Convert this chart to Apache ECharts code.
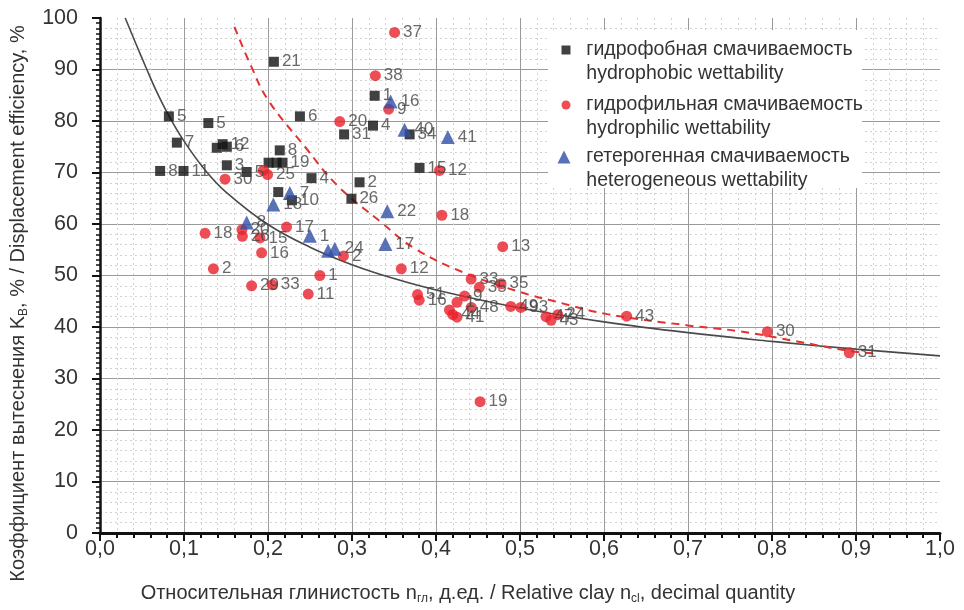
<!DOCTYPE html>
<html>
<head>
<meta charset="utf-8">
<script src="https://cdn.jsdelivr.net/npm/echarts@6/dist/echarts.min.js"></script>
<style>
  html, body { margin: 0; padding: 0; background: #fff; }
  #chart { width: 964px; height: 610px; }
</style>
</head>
<body>
<div id="chart"></div>
<script>
// Displacement efficiency vs. relative clay content, by wettability type.
// Each point: [relative clay, displacement efficiency %, sample no.]
const hydrophobic = [
  [0.207, 91.5, '21'], [0.082, 80.9, '5'], [0.129, 79.6, '5'], [0.238, 80.9, '6'],
  [0.0915, 75.8, '7'], [0.139, 74.8, ''], [0.146, 75.5, '12'], [0.151, 75.0, '6'],
  [0.214, 74.3, '8'], [0.151, 71.4, '3'], [0.2007, 71.9, ''], [0.2102, 71.9, ''],
  [0.2173, 71.9, '19'], [0.1746, 70.1, '5'], [0.0716, 70.3, '8'], [0.0994, 70.3, '11'],
  [0.2518, 68.9, '4'], [0.309, 68.1, '2'], [0.2993, 64.9, '26'], [0.327, 84.9, '1'],
  [0.325, 79.1, '4'], [0.2906, 77.4, '31'], [0.3686, 77.4, '34'], [0.3804, 70.9, '15'],
  [0.2122, 66.2, ''], [0.2285, 64.6, '10']
];
const hydrophilic = [
  [0.3507, 97.2, '37'], [0.3278, 88.8, '38'], [0.3436, 82.3, '9'], [0.2854, 79.9, '20'],
  [0.4042, 70.4, '12'], [0.407, 61.7, '18'], [0.1489, 68.7, '30'], [0.1944, 70.4, ''],
  [0.1995, 69.6, '25'], [0.2221, 59.4, '17'], [0.1251, 58.2, '18'], [0.169, 58.9, '20'],
  [0.1695, 57.6, '26'], [0.1904, 57.3, '15'], [0.1924, 54.4, '16'], [0.135, 51.3, '2'],
  [0.1805, 48.0, '29'], [0.2051, 48.2, '33'], [0.2617, 50.0, '1'], [0.2479, 46.4, '11'],
  [0.2898, 53.8, '2'], [0.3587, 51.3, '12'], [0.4794, 55.6, '13'], [0.4418, 49.3, '33'],
  [0.4516, 47.7, '35'], [0.4774, 48.4, '35'], [0.434, 46.0, '9'], [0.378, 46.3, '51'],
  [0.380, 45.2, '16'], [0.425, 44.8, '1'], [0.416, 43.3, ''], [0.420, 42.4, '44'],
  [0.425, 41.9, '41'], [0.442, 43.8, '48'], [0.489, 44.0, '49'], [0.501, 43.8, '93'],
  [0.531, 42.0, '47'], [0.537, 41.3, '43'], [0.545, 42.4, '24'], [0.627, 42.1, '43'],
  [0.7945, 39.1, '30'], [0.892, 35.0, '31'], [0.4525, 25.5, '19']
];
const heterogeneous = [
  [0.346, 83.8, '16'], [0.3626, 78.3, '40'], [0.4141, 76.9, '41'], [0.342, 62.5, '22'],
  [0.3397, 56.1, '17'], [0.2498, 57.7, '1'], [0.2716, 54.8, ''], [0.2795, 55.2, '24'],
  [0.1746, 60.3, '8'], [0.2063, 63.8, '18'], [0.226, 66.0, '7']
];
// Trend for all samples (solid) and for hydrophilic samples (dashed)
const trendAll = [
  [0.030, 100], [0.0425, 95.1], [0.055, 90.3], [0.068, 85.5], [0.082, 81.0],
  [0.1, 76.1], [0.125, 70.5], [0.15, 66.2], [0.2, 59.9], [0.25, 55.5], [0.3, 52.1],
  [0.35, 49.4], [0.4, 47.2], [0.5, 43.7], [0.6, 41.0], [0.7, 38.9], [0.8, 37.2],
  [0.9, 35.7], [1.0, 34.4]
];
const trendHydrophilic = [
  [0.160, 98.3], [0.18, 90.6], [0.2, 84.1], [0.244, 75.0], [0.283, 67.4], [0.335, 60.3],
  [0.375, 55.2], [0.434, 50.5], [0.5, 46.8], [0.541, 45.0], [0.604, 42.5], [0.7, 40.3],
  [0.76, 39.2], [0.83, 37.2], [0.89, 35.4], [0.92, 34.9]
];
const seriesNames = [
  'гидрофобная смачиваемость\nhydrophobic wettability',
  'гидрофильная смачиваемость\nhydrophilic wettability',
  'гетерогенная смачиваемость\nheterogeneous wettability'
];

const FONT = 'Liberation Sans, Arial, Helvetica, sans-serif';
const TEXT = '#333';

const chart = echarts.init(document.getElementById('chart'), null, { renderer: 'canvas' });

const pointLabel = {
  show: true,
  position: 'right',
  distance: 3,
  fontFamily: FONT,
  fontSize: 17,
  color: '#444',
  formatter: p => p.data[2]
};

// One legend block per wettability type; the leading blank line keeps the
// marker level with the first (Russian) line of its caption.
function legendAt(name, icon, size, left, top) {
  return {
    data: [{ name: name, icon: icon }],
    left: left,
    top: top,
    padding: 0,
    itemWidth: size,
    itemHeight: size,
    selectedMode: false,
    formatter: n => ' \n' + n.split('\n').map(s => '  ' + s).join('\n'),
    textStyle: { fontFamily: FONT, fontSize: 19.5, color: TEXT, lineHeight: 24 }
  };
}

chart.setOption({
  animation: false,
  backgroundColor: '#fff',
  grid: { left: 98, right: 24, top: 18, bottom: 75 },
  graphic: [{
    type: 'rect',
    z: 1,
    shape: { x: 548, y: 30, width: 314, height: 158 },
    style: { fill: '#fff' }
  }],
  legend: [
    legendAt(seriesNames[0], 'rect', 9, 561.5, 14),
    legendAt(seriesNames[1], 'circle', 9, 561.5, 69),
    legendAt(seriesNames[2], 'triangle', 13, 557.5, 121)
  ],
  xAxis: {
    type: 'value',
    min: 0, max: 1, interval: 0.1,
    name: '{n|Относительная глинистость n}{s|гл}{n|, д.ед. / Relative clay n}{s|cl}{n|, decimal quantity}',
    nameLocation: 'middle',
    nameGap: 48,
    nameTextStyle: {
      padding: [0, 104, 0, 0],
      rich: {
        n: { fontFamily: FONT, fontSize: 20, color: TEXT, lineHeight: 24, verticalAlign: 'middle' },
        s: { fontFamily: FONT, fontSize: 12, color: TEXT, lineHeight: 12, verticalAlign: 'bottom' }
      }
    },
    axisLine: { onZero: false, lineStyle: { color: '#111', width: 3 } },
    axisTick: { length: 8, lineStyle: { color: '#111', width: 2 } },
    minorTick: { show: true, splitNumber: 5, length: 5, lineStyle: { color: '#111', width: 2 } },
    axisLabel: {
      fontFamily: FONT, fontSize: 21.5, color: TEXT, margin: 5,
      formatter: v => v.toFixed(1).replace('.', ',')
    },
    splitLine: { show: true, showMaxLine: false, lineStyle: { color: '#9a9a9a', width: 1 } },
    minorSplitLine: { show: true, lineStyle: { color: '#d2d2d2', width: 1, type: [2, 3] } }
  },
  yAxis: [{
    type: 'value',
    min: 0, max: 100, interval: 10,
    name: '{n|Коэффициент вытеснения K}{s|В}{n|, % / Displacement efficiency, %}',
    nameLocation: 'middle',
    nameGap: 70,
    nameTextStyle: {
      padding: [0, 56, 0, 0],
      rich: {
        n: { fontFamily: FONT, fontSize: 20, color: TEXT, lineHeight: 24, verticalAlign: 'middle' },
        s: { fontFamily: FONT, fontSize: 12, color: TEXT, lineHeight: 12, verticalAlign: 'bottom' }
      }
    },
    axisLine: { show: true, onZero: false, lineStyle: { color: '#111', width: 2.5 } },
    axisTick: { show: true, length: 8, lineStyle: { color: '#111', width: 2 } },
    minorTick: { show: true, splitNumber: 10, length: 4, lineStyle: { color: '#111', width: 1.5 } },
    axisLabel: { fontFamily: FONT, fontSize: 21.5, color: TEXT, margin: 22 },
    splitLine: { show: true, showMaxLine: false, lineStyle: { color: '#9a9a9a', width: 1 } },
    minorSplitLine: { show: false }
  }, {
    // carries only the finer horizontal grid (every 2 %)
    type: 'value',
    position: 'right',
    min: 0, max: 100, interval: 10,
    axisLine: { show: false },
    axisTick: { show: false },
    axisLabel: { show: false },
    splitLine: { show: false },
    minorSplitLine: { show: true, lineStyle: { color: '#d2d2d2', width: 1, type: [2, 3] } },
    minorTick: { show: false, splitNumber: 5 }
  }],
  series: [
    {
      name: 'trend-all', type: 'line', data: trendAll, smooth: 0.4,
      showSymbol: false, symbol: 'none', silent: true, z: 3,
      lineStyle: { color: '#4a4a4a', width: 1.6 }
    },
    {
      name: 'trend-hydrophilic', type: 'line', data: trendHydrophilic, smooth: 0.4,
      showSymbol: false, symbol: 'none', silent: true, z: 3,
      lineStyle: { color: '#e2312f', width: 2, type: [8, 6] }
    },
    {
      name: seriesNames[0], type: 'scatter', data: hydrophobic, z: 5,
      symbol: 'rect', symbolSize: 10,
      itemStyle: { color: '#111' },
      label: pointLabel
    },
    {
      name: seriesNames[1], type: 'scatter', data: hydrophilic, z: 5,
      symbol: 'circle', symbolSize: 11,
      itemStyle: { color: '#e8202a' },
      label: pointLabel
    },
    {
      name: seriesNames[2], type: 'scatter', data: heterogeneous, z: 5,
      symbol: 'triangle', symbolSize: 14,
      itemStyle: { color: '#2f4ea4' },
      label: pointLabel
    }
  ]
});
</script>
</body>
</html>
